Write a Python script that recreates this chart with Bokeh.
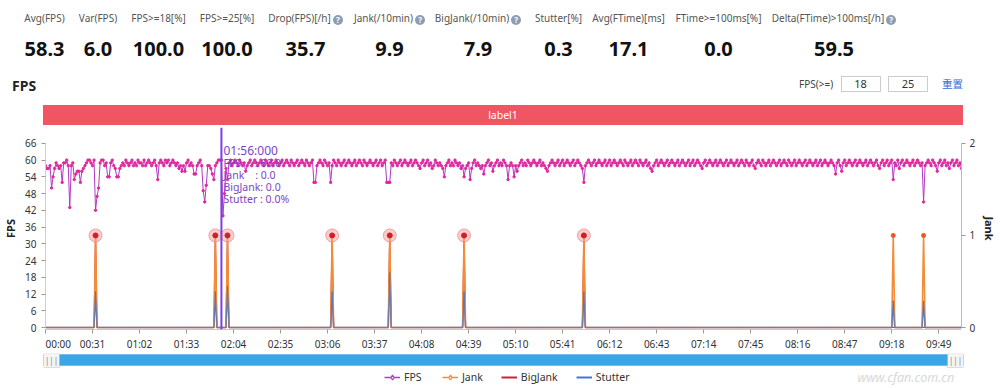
from math import pi
import html as _html
from bokeh.plotting import figure
from bokeh.models import (Range1d, LinearAxis, FixedTicker, Span, Label, BoxAnnotation,
                          Legend, LegendItem, Div, ColumnDataSource)
from bokeh.layouts import column
from bokeh.embed import file_html
from bokeh.resources import INLINE

# ---------------- data ----------------
stat_labels = ["Avg(FPS)", "Var(FPS)", "FPS>=18[%]", "FPS>=25[%]", "Drop(FPS)[/h]", "Jank(/10min)",
               "BigJank(/10min)", "Stutter[%]", "Avg(FTime)[ms]", "FTime>=100ms[%]", "Delta(FTime)>100ms[/h]"]
stat_values = ["58.3", "6.0", "100.0", "100.0", "35.7", "9.9", "7.9", "0.3", "17.1", "0.0", "59.5"]
stat_help = [False, False, False, False, True, True, True, False, False, False, True]

fps_thresholds = ["18", "25"]
band_label = "label1"

fps = [
    58,57,57,58,50,54,57,59,58,57,58,52,59,59,60,58,43,58,59,53,
    55,56,56,52,56,57,58,59,60,60,59,58,60,42,47,50,59,60,60,58,
    59,54,54,59,60,58,57,54,54,57,58,59,58,60,59,58,59,60,58,59,
    58,60,59,59,58,60,58,59,60,59,58,59,60,58,53,59,60,59,58,60,
    59,60,58,59,60,59,58,59,57,58,56,58,56,59,60,58,59,58,55,55,
    58,59,60,58,49,45,51,58,58,57,55,53,58,59,60,60,60,40,48,57,
    53,59,60,58,59,60,59,58,60,59,58,59,56,58,59,60,58,59,60,59,
    58,59,60,59,58,60,59,58,59,60,58,59,60,59,58,59,60,58,59,60,
    59,58,60,59,58,59,60,58,59,60,59,58,60,59,58,59,60,52,52,58,
    59,60,59,58,60,59,58,59,52,58,60,59,58,60,59,58,59,60,58,59,
    60,59,58,59,60,58,59,60,59,58,60,59,58,59,60,59,58,59,60,58,
    59,60,58,59,60,52,52,52,59,58,60,59,58,59,60,58,59,60,59,58,
    59,60,58,59,60,59,58,57,59,60,58,59,60,58,59,57,58,60,59,58,
    59,58,57,54,58,59,60,58,59,58,60,59,58,59,57,58,54,57,58,59,
    53,57,59,60,58,59,58,57,58,55,58,59,60,58,59,56,58,59,60,58,
    59,58,60,59,58,53,58,59,58,54,58,56,58,59,60,58,59,58,60,59,
    58,59,60,59,58,59,60,58,59,58,57,56,58,59,60,59,58,59,60,58,
    59,60,58,59,60,59,58,59,60,58,59,60,59,58,57,52,58,59,60,59,
    58,59,60,58,59,60,59,58,59,60,58,59,60,58,59,60,59,58,59,60,
    59,58,60,59,58,59,60,58,59,60,59,58,60,59,58,59,60,58,59,57,
    56,58,59,60,58,59,60,59,58,59,60,58,59,60,59,58,59,60,58,59,
    60,59,58,59,60,58,59,60,58,59,60,59,58,57,59,60,58,59,60,59,
    58,59,60,58,59,60,59,58,59,60,58,59,60,59,58,59,60,58,59,60,
    59,58,60,59,58,59,60,58,57,59,60,59,58,60,59,58,59,60,58,59,
    60,59,58,59,60,58,59,60,59,58,60,59,58,59,60,58,59,60,59,58,
    59,60,58,59,60,59,58,59,60,58,59,60,58,59,60,59,58,59,60,59,
    58,55,59,60,58,56,59,60,58,59,60,59,58,59,60,58,59,60,59,58,
    59,60,58,59,60,59,58,59,60,58,57,59,60,58,59,60,58,59,60,53,
    59,58,60,57,59,60,58,59,60,59,58,59,60,58,59,60,59,58,59,45,
    58,59,60,59,58,60,59,58,56,59,60,58,59,60,58,59,57,59,60,58,
    59,60,58,59,57,
]
# events (second index) and values
jank_times = [33, 112, 120, 189, 227, 276, 355, 559, 579]
jank_vals = [1, 1, 1, 1, 1, 1, 1, 1, 1]
bigjank_vals = [1, 1, 1, 1, 1, 1, 1, 0, 0]
stutter_vals = [0.39, 0.39, 0.45, 0.39, 0.6, 0.39, 0.39, 0.29, 0.29]

fps_ticks = [0, 6, 12, 18, 24, 30, 36, 42, 48, 54, 60, 66]
jank_ticks = [0, 1, 2]
cursor_time = 116
tooltip_lines = ["FPS\u00a0\u00a0\u00a0\u00a0\u00a0: 60.0", "Jank\u00a0\u00a0\u00a0\u00a0: 0.0",
                 "BigJank: 0.0", "Stutter\u00a0: 0.0%"]
series_names = ["FPS", "Jank", "BigJank", "Stutter"]

N = len(fps)
times = list(range(N))
jank = [0] * N
bigjank = [0] * N
stutter = [0.0] * N
for t, j, b, s in zip(jank_times, jank_vals, bigjank_vals, stutter_vals):
    jank[t] = j
    bigjank[t] = b
    stutter[t] = s

src = ColumnDataSource(dict(t=times, fps=fps, jank=jank, bigjank=bigjank, stutter=stutter))
jank_pts = ColumnDataSource(dict(t=[t for t, v in zip(times, jank) if v > 0],
                                 v=[v for v in jank if v > 0]))
big_pts = ColumnDataSource(dict(t=[t for t, v in zip(times, bigjank) if v > 0],
                                v=[v for v in bigjank if v > 0]))

x_ticks = list(range(0, N, 31))

FONT = "'Noto Sans', 'Noto Sans CJK SC', sans-serif"
C_FPS_LINE, C_FPS_PT = "#b438c4", "#e2279c"
C_JANK, C_BIG, C_STUT = "#f28c38", "#d0202e", "#3f78d4"

# ---------------- header (html) ----------------
stat_centers = [44.5, 98, 158.5, 227, 305.5, 389.5, 478, 558.5, 628.5, 718.5, 834]
icon = ('<span style="display:inline-block;width:10px;height:10px;border-radius:50%;'
        'background:#8d9db3;color:#fff;font-size:8px;line-height:10px;text-align:center;'
        'font-weight:bold;margin-left:2px;vertical-align:-1px;">?</span>')
parts = []
for lab, val, hlp, cx in zip(stat_labels, stat_values, stat_help, stat_centers):
    parts.append(f'<div style="position:absolute;left:{cx-70}px;top:11px;width:140px;text-align:center;'
                 f'font-size:10px;line-height:14px;color:#555;white-space:nowrap;">'
                 f'{_html.escape(lab)}{icon if hlp else ""}</div>')
    parts.append(f'<div style="position:absolute;left:{cx-70}px;top:37px;width:140px;text-align:center;'
                 f'font-size:20px;line-height:24px;font-weight:bold;color:#111;">{val}</div>')
parts.append('<div style="position:absolute;left:12px;top:78px;font-size:14px;line-height:16px;'
             'font-weight:bold;color:#222;">FPS</div>')
parts.append('<div style="position:absolute;left:799px;top:77px;font-size:10px;line-height:14px;'
             'color:#444;">FPS(&gt;=)</div>')
for lx, v in zip([840.5, 888], fps_thresholds):
    parts.append(f'<div style="position:absolute;left:{lx}px;top:76px;width:40px;height:16px;box-sizing:border-box;'
                 f'border:1px solid #ccc;text-align:center;font-size:11px;line-height:14px;color:#333;">{v}</div>')
parts.append('<div style="position:absolute;left:942px;top:77px;font-size:10.5px;line-height:14px;'
             "color:#2f6bd8;font-family:'Noto Sans CJK SC',sans-serif;\">重置</div>")
parts.append(f'<div style="position:absolute;left:43px;top:105px;width:920px;height:20px;background:#ef5563;'
             f'color:#fff;text-align:center;font-size:10.5px;line-height:20px;">{band_label}</div>')
header_html = (f'<div style="position:relative;width:1000px;height:127px;font-family:{FONT};">'
               + "".join(parts) + '</div>')
header = Div(text=header_html, width=1000, height=127, margin=(0, 0, 0, 0))

# ---------------- main chart ----------------
p = figure(width=1000, height=226, x_range=Range1d(0, N - 1), y_range=Range1d(-0.7097, 71.677),
           output_backend="svg", toolbar_location=None, frame_align=False,
           min_border_left=43, min_border_right=37, min_border_top=0, min_border_bottom=22)
p.extra_y_ranges = {"jank": Range1d(-0.0215, 2.172)}
p.outline_line_color = None
p.grid.visible = False
p.background_fill_color = "white"


def style_axis(ax, standoff):
    ax.major_tick_line_color = "#999999"
    ax.major_tick_out = 4
    ax.major_tick_in = 0
    ax.minor_tick_out = 0
    ax.minor_tick_in = 0
    ax.major_label_standoff = standoff
    ax.major_label_text_font_size = "10px"
    ax.major_label_text_color = "#333333"
    ax.major_label_text_font = "Noto Sans"
    ax.axis_label_text_font = "Noto Sans"
    ax.axis_label_text_font_size = "11px"
    ax.axis_label_text_font_style = "bold"
    ax.axis_label_text_color = "#222222"


xa = p.xaxis[0]
xa.ticker = FixedTicker(ticks=x_ticks)
ov = {t: f"{t // 60:02d}:{t % 60:02d}" for t in x_ticks}
# first label sits to the right of its tick (padded with blank digit-width spaces)
ov[x_ticks[0]] = "\u2007\u2007\u2008\u2007\u2007" + ov[x_ticks[0]]
xa.major_label_overrides = ov
xa.axis_line_color = "#a8d4f2"
style_axis(xa, 3)

ya = p.yaxis[0]
ya.ticker = FixedTicker(ticks=fps_ticks)
ya.bounds = (0, 66)
ya.axis_line_color = "#d0d0d0"
style_axis(ya, 5)
ya.axis_label = "FPS"
ya.axis_label_standoff = 4

ra = LinearAxis(y_range_name="jank", ticker=FixedTicker(ticks=jank_ticks), bounds=(0, 2))
ra.axis_line_color = "#bbbbbb"
style_axis(ra, 4)
ra.axis_label = "Jank"
ra.axis_label_standoff = 4
p.add_layout(ra, "right")

p.line("t", "fps", source=src, line_color=C_FPS_LINE, line_width=1)
p.scatter("t", "fps", source=src, size=2.4, fill_color=C_FPS_PT, line_color=C_FPS_PT)
p.line("t", "stutter", source=src, y_range_name="jank", line_color=C_STUT, line_width=1.5)
p.line("t", "bigjank", source=src, y_range_name="jank", line_color=C_BIG, line_width=1.2)
p.line("t", "jank", source=src, y_range_name="jank", line_color=C_JANK, line_width=1.6)
p.line("t", "stutter", source=src, y_range_name="jank", line_color=C_STUT, line_width=1, line_alpha=0.8)
p.scatter("t", "v", source=jank_pts, y_range_name="jank", size=4, fill_color="#e8562a", line_color="#e8562a")
p.scatter("t", "v", source=big_pts, y_range_name="jank", size=13,
          fill_color="#f5a3a3", fill_alpha=0.55, line_color="#f08585", line_alpha=0.7)
p.scatter("t", "v", source=big_pts, y_range_name="jank", size=5, fill_color="#d21f25", line_color="#d21f25")

# cursor + tooltip
p.add_layout(Span(location=cursor_time, dimension="height", line_color="#7b3fe4", line_width=2))
p.add_layout(Label(x=cursor_time, y=179.3, y_units="screen", x_offset=2,
                   text=f"{cursor_time // 60:02d}:{cursor_time % 60:02d}:000",
                   text_font="Noto Sans", text_font_size="12px",
                   text_color="#7a45c8", text_baseline="middle", text_align="left"))
for i, line in enumerate(tooltip_lines):
    p.add_layout(Label(x=cursor_time, y=167 - 12.3 * i, y_units="screen", x_offset=2, text=line,
                       text_font="Noto Sans", text_font_size="10.5px", text_color="#7a45c8",
                       text_baseline="middle", text_align="left"))

# ---------------- data zoom + legend strip ----------------
q = figure(width=1000, height=35, x_range=p.x_range, y_range=Range1d(0, 35),
           output_backend="svg", toolbar_location=None, frame_align=False,
           x_axis_type=None, y_axis_type=None,
           min_border_left=43, min_border_right=37, min_border_top=0, min_border_bottom=0)
q.outline_line_color = None
q.grid.visible = False

q.add_layout(BoxAnnotation(left=times[0], right=times[-1], top=34, bottom=23,
                           top_units="screen", bottom_units="screen",
                           fill_color="#3aa6e8", fill_alpha=1, line_color="#2b8fd3", line_width=1))
for l, r in [(0, 16), (904, 920)]:
    q.add_layout(BoxAnnotation(left=l, right=r, top=35, bottom=21, left_units="screen",
                               right_units="screen", top_units="screen", bottom_units="screen",
                               fill_color="#f4f4f4", fill_alpha=1, line_color="#a0a0a0", line_width=1))
    q.add_layout(Label(x=(l + r) / 2, y=28, x_units="screen", y_units="screen", text="|||",
                       text_font="Noto Sans", text_font_size="8px", text_color="#888",
                       text_align="center", text_baseline="middle"))

q.add_layout(Label(x=814, y=11, x_units="screen", y_units="screen", text="www.cfan.com.cn",
                   text_font="Noto Sans", text_font_size="12.5px", text_font_style="italic",
                   text_color="#d8d8d8", text_baseline="middle"))

# legend proxies: one point each, placed below the strip's visible range (styling only)
def proxy():
    return ColumnDataSource(dict(x=[times[0]], y=[-50]))

lf = q.line(x="x", y="y", source=proxy(), line_color=C_FPS_LINE, line_width=1.5)
sf = q.scatter(x="x", y="y", source=proxy(), marker="diamond", size=7,
               fill_color="white", line_color=C_FPS_LINE, line_width=1.2)
lj = q.line(x="x", y="y", source=proxy(), line_color=C_JANK, line_width=1.5)
sj = q.scatter(x="x", y="y", source=proxy(), marker="diamond", size=7,
               fill_color="white", line_color=C_JANK, line_width=1.2)
lb = q.line(x="x", y="y", source=proxy(), line_color=C_BIG, line_width=2)
ls = q.line(x="x", y="y", source=proxy(), line_color=C_STUT, line_width=2)

legend = Legend(items=[LegendItem(label=series_names[0], renderers=[lf, sf]),
                       LegendItem(label=series_names[1], renderers=[lj, sj]),
                       LegendItem(label=series_names[2], renderers=[lb]),
                       LegendItem(label=series_names[3], renderers=[ls])],
                location=(341, 4), orientation="horizontal",
                glyph_width=16, glyph_height=12, label_height=12, label_standoff=4, spacing=18,
                padding=0, margin=0, border_line_color=None, background_fill_alpha=0,
                label_text_font="Noto Sans", label_text_font_size="10.5px", label_text_color="#333")
q.add_layout(legend)

layout = column(header, p, q, spacing=0)
open("out.html", "w").write(file_html(layout, INLINE))
